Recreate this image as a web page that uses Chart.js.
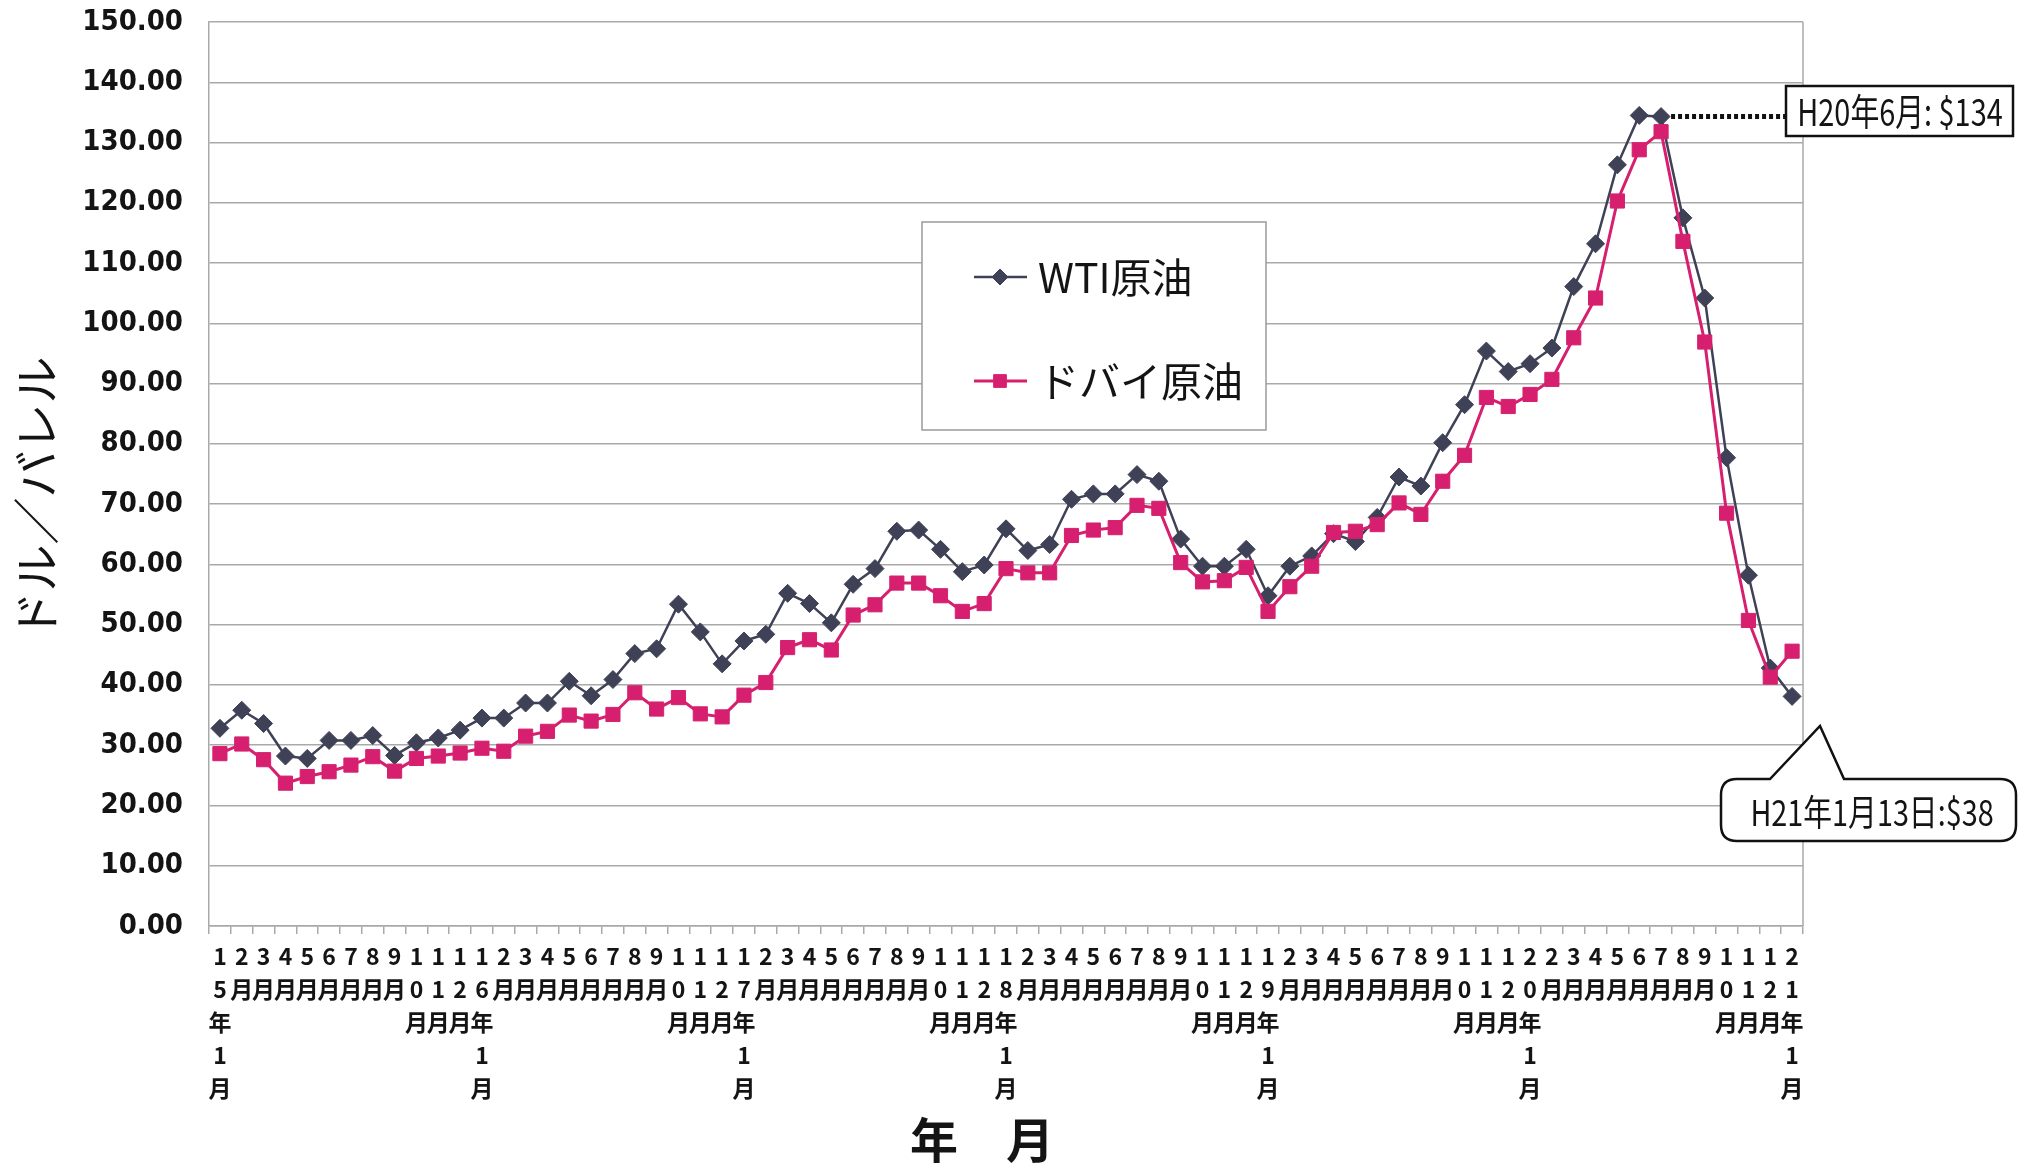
<!DOCTYPE html>
<html lang="ja">
<head>
<meta charset="utf-8">
<title>WTI原油・ドバイ原油 価格推移</title>
<script src="https://cdn.jsdelivr.net/npm/chart.js@4.4.1/dist/chart.umd.min.js"></script>
<style>
  html, body { margin: 0; padding: 0; background: #fff; }
  canvas { display: block; }
</style>
</head>
<body>
<canvas id="oilChart" width="2023" height="1169"></canvas>
<script>
// Months H15年1月 .. H21年1月
const categories = [
    '15年1月', '2月', '3月', '4月', '5月', '6月', '7月', '8月', '9月', '10月', '11月', '12月',
    '16年1月', '2月', '3月', '4月', '5月', '6月', '7月', '8月', '9月', '10月', '11月', '12月',
    '17年1月', '2月', '3月', '4月', '5月', '6月', '7月', '8月', '9月', '10月', '11月', '12月',
    '18年1月', '2月', '3月', '4月', '5月', '6月', '7月', '8月', '9月', '10月', '11月', '12月',
    '19年1月', '2月', '3月', '4月', '5月', '6月', '7月', '8月', '9月', '10月', '11月', '12月',
    '20年1月', '2月', '3月', '4月', '5月', '6月', '7月', '8月', '9月', '10月', '11月', '12月',
    '21年1月'
];

// ドル／バレル
const wtiPrices = [
    32.8, 35.8, 33.6, 28.2, 27.8, 30.8, 30.8, 31.6, 28.3, 30.4, 31.2, 32.5,
    34.5, 34.5, 37.0, 37.0, 40.6, 38.2, 40.9, 45.2, 46.0, 53.4, 48.8, 43.5,
    47.3, 48.4, 55.2, 53.5, 50.3, 56.7, 59.3, 65.5, 65.7, 62.5, 58.8, 59.9,
    65.9, 62.3, 63.3, 70.8, 71.7, 71.7, 74.9, 73.8, 64.2, 59.7, 59.7, 62.5,
    54.8, 59.7, 61.4, 65.1, 63.8, 67.8, 74.5, 73.0, 80.2, 86.5, 95.4, 92.0,
    93.3, 95.9, 106.1, 113.2, 126.3, 134.5, 134.3, 117.5, 104.2, 77.7, 58.2, 42.8,
    38.1
];
const dubaiPrices = [
    28.6, 30.2, 27.6, 23.7, 24.8, 25.6, 26.7, 28.1, 25.7, 27.8, 28.2, 28.7,
    29.5, 29.0, 31.5, 32.3, 35.0, 34.0, 35.1, 38.7, 36.0, 37.9, 35.2, 34.7,
    38.3, 40.4, 46.2, 47.5, 45.8, 51.6, 53.3, 56.9, 56.9, 54.8, 52.2, 53.5,
    59.3, 58.6, 58.6, 64.8, 65.7, 66.1, 69.8, 69.3, 60.3, 57.1, 57.3, 59.5,
    52.2, 56.3, 59.7, 65.3, 65.5, 66.6, 70.2, 68.3, 73.8, 78.1, 87.7, 86.2,
    88.2, 90.7, 97.6, 104.2, 120.3, 128.8, 131.8, 113.6, 96.9, 68.5, 50.7, 41.3,
    45.6
];

const seriesNames = ['WTI原油', 'ドバイ原油'];
const yMin = 0, yMax = 150, yStep = 10;

const peakIndex = 66;
const peakNote = 'H20年6月: $134';
const lastNote = 'H21年1月13日:$38';

const wtiColor = '#3f4157';
const dubaiColor = '#d6206f';
const gridColor = '#a9a9a9';
const textColor = '#141414';
const cjkFont = "'Noto Sans CJK JP', 'Noto Sans', sans-serif";
const narrowFont = "'DejaVu Sans Condensed', 'Noto Sans CJK JP', sans-serif";

// Excel style vertical label: one character per line
function toLines(label) {
    return [...label];
}

function drawMarker(ctx, style, radius, x, y, color) {
    ctx.fillStyle = color;
    ctx.strokeStyle = color;
    ctx.lineWidth = 1;
    Chart.helpers.drawPoint(ctx, { pointStyle: style, radius: radius, borderWidth: 1, rotation: 0 }, x, y);
}

// narrow text, squeezed sideways like the original
function squeezedText(ctx, text, cx, cy, font, sx) {
    ctx.save();
    ctx.translate(cx, cy);
    ctx.scale(sx, 1);
    ctx.font = font;
    ctx.textAlign = 'center';
    ctx.textBaseline = 'middle';
    ctx.fillStyle = textColor;
    ctx.fillText(text, 0, 0);
    ctx.restore();
}

const notesPlugin = {
    id: 'notes',
    beforeDatasetsDraw(chart) {
        const { ctx, chartArea: a } = chart;
        ctx.save();
        ctx.strokeStyle = gridColor;
        ctx.lineWidth = 1.5;
        ctx.beginPath();
        ctx.moveTo(a.right, a.top);
        ctx.lineTo(a.right, a.bottom);
        ctx.stroke();
        ctx.restore();
    },
    afterDraw(chart) {
        const { ctx } = chart;
        const xs = chart.scales.x, ys = chart.scales.y;
        ctx.save();

        // legend box
        ctx.fillStyle = '#fff';
        ctx.fillRect(922, 222, 344, 208);
        ctx.strokeStyle = '#9a9a9a';
        ctx.lineWidth = 1.5;
        ctx.strokeRect(922, 222, 344, 208);
        const rows = [
            { y: 277, color: wtiColor, style: 'rectRot', r: 8, w: 2.5 },
            { y: 381, color: dubaiColor, style: 'rect', r: 9, w: 3 }
        ];
        rows.forEach((row, i) => {
            ctx.strokeStyle = row.color;
            ctx.lineWidth = row.w;
            ctx.beginPath();
            ctx.moveTo(974, row.y);
            ctx.lineTo(1027, row.y);
            ctx.stroke();
            drawMarker(ctx, row.style, row.r, 1000, row.y, row.color);
            ctx.fillStyle = textColor;
            ctx.font = '41px ' + cjkFont;
            ctx.textAlign = 'left';
            ctx.textBaseline = 'middle';
            ctx.fillText(seriesNames[i], 1038, row.y);
        });

        // peak note with dotted leader
        const px = xs.getPixelForValue(peakIndex);
        const py = ys.getPixelForValue(wtiPrices[peakIndex]);
        ctx.strokeStyle = '#111';
        ctx.lineWidth = 5;
        ctx.setLineDash([4, 3]);
        ctx.beginPath();
        ctx.moveTo(px + 10, py);
        ctx.lineTo(1786, py);
        ctx.stroke();
        ctx.setLineDash([]);
        ctx.fillStyle = '#fff';
        ctx.fillRect(1786, 86, 227, 50);
        ctx.lineWidth = 2.5;
        ctx.strokeRect(1786, 86, 227, 50);
        squeezedText(ctx, peakNote, 1900, 112, '37px ' + cjkFont, 0.78);

        // speech bubble for the last value
        const bx = 1721, by = 779, bw = 295, bh = 62, r = 16;
        ctx.beginPath();
        ctx.moveTo(bx + r, by);
        ctx.lineTo(1770, by);
        ctx.lineTo(1820, 726);
        ctx.lineTo(1844, by);
        ctx.lineTo(bx + bw - r, by);
        ctx.quadraticCurveTo(bx + bw, by, bx + bw, by + r);
        ctx.lineTo(bx + bw, by + bh - r);
        ctx.quadraticCurveTo(bx + bw, by + bh, bx + bw - r, by + bh);
        ctx.lineTo(bx + r, by + bh);
        ctx.quadraticCurveTo(bx, by + bh, bx, by + bh - r);
        ctx.lineTo(bx, by + r);
        ctx.quadraticCurveTo(bx, by, bx + r, by);
        ctx.closePath();
        ctx.fillStyle = '#fff';
        ctx.fill();
        ctx.strokeStyle = '#111';
        ctx.lineWidth = 2.5;
        ctx.stroke();
        squeezedText(ctx, lastNote, 1872, 812, '36px ' + cjkFont, 0.8);

        ctx.restore();
    }
};

const chart = new Chart(document.getElementById('oilChart'), {
    type: 'line',
    data: {
        labels: categories,
        datasets: [
            {
                label: seriesNames[0],
                data: wtiPrices,
                borderColor: wtiColor,
                backgroundColor: wtiColor,
                borderWidth: 2.5,
                pointStyle: 'rectRot',
                pointRadius: 9,
                pointBorderWidth: 1,
                tension: 0,
                order: 1
            },
            {
                label: seriesNames[1],
                data: dubaiPrices,
                borderColor: dubaiColor,
                backgroundColor: dubaiColor,
                borderWidth: 3,
                pointStyle: 'rect',
                pointRadius: 10,
                pointBorderWidth: 1,
                tension: 0,
                order: 0
            }
        ]
    },
    options: {
        responsive: false,
        animation: false,
        devicePixelRatio: 1,
        layout: { padding: { left: 0, right: 220, top: 22, bottom: 0 } },
        plugins: {
            legend: { display: false },
            tooltip: { enabled: false }
        },
        scales: {
            x: {
                offset: true,
                grid: {
                    display: true,
                    drawOnChartArea: false,
                    drawTicks: true,
                    tickLength: 8,
                    offset: true,
                    color: gridColor,
                    lineWidth: 1.5
                },
                border: { display: true, color: gridColor, width: 1.5 },
                ticks: {
                    autoSkip: false,
                    maxRotation: 0,
                    minRotation: 0,
                    padding: 6,
                    color: textColor,
                    font: { family: cjkFont, size: 23, weight: 'bold', lineHeight: '33px' },
                    callback: (v, i) => toLines(categories[i])
                },
                title: {
                    display: true,
                    text: '年　月　',
                    color: textColor,
                    font: { family: cjkFont, size: 48, weight: 'bold' },
                    padding: { top: 10, bottom: 0 }
                },
                afterFit(scale) { scale.height = 243; }
            },
            y: {
                min: yMin,
                max: yMax,
                grid: { color: gridColor, lineWidth: 1.5, drawTicks: false },
                border: { display: true, color: gridColor, width: 1.5 },
                ticks: {
                    stepSize: yStep,
                    padding: 26,
                    color: textColor,
                    font: { family: narrowFont, size: 29, weight: 'bold' },
                    callback: v => v.toFixed(2)
                },
                title: {
                    display: true,
                    text: 'ドル／バレル　',
                    color: textColor,
                    font: { family: cjkFont, size: 47 },
                    padding: { top: 8, bottom: 0 }
                },
                afterFit(scale) {
                    scale.width = 209;
                    scale.paddingTop = 0;
                    scale.paddingBottom = 0;
                }
            }
        }
    },
    plugins: [notesPlugin]
});
</script>
</body>
</html>
